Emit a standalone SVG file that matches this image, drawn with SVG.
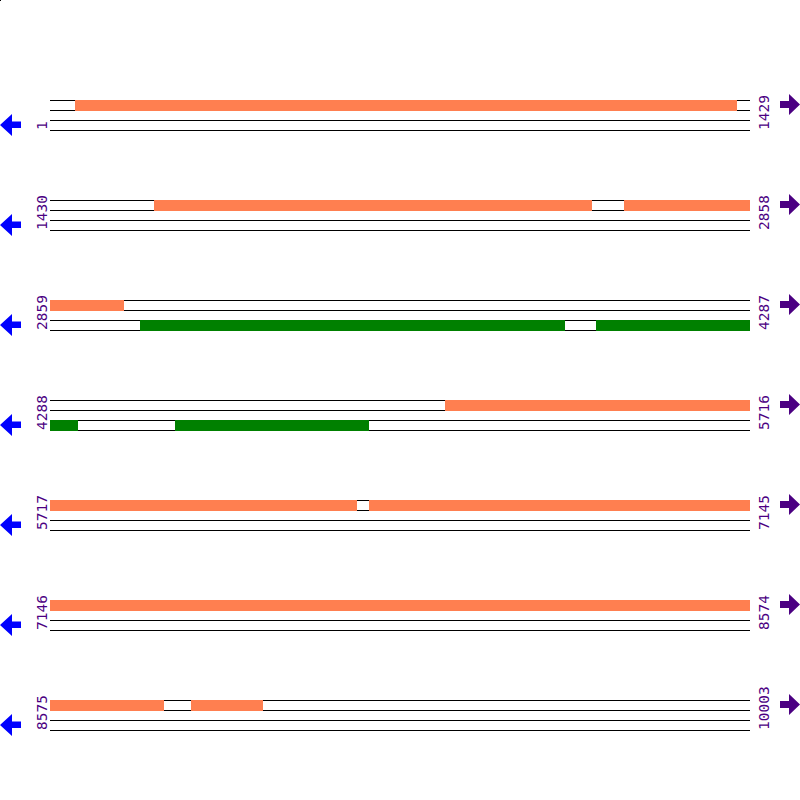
<svg xmlns="http://www.w3.org/2000/svg" width="800" height="800" viewBox="0 0 800 800">
<style>
.ln{stroke:#000;stroke-width:1;fill:none}
.or{fill:#FF7F50}
.gr{fill:#008000}
.la{fill:#0000FF}
.ra{fill:#4B0082}
.lb{font-family:"DejaVu Sans Mono",monospace;font-size:14.5px;fill:#4B0082}
</style>
<defs>
<g id="lines">
<path class="ln" d="M50 100.5H750M50 110.5H750M50 120.5H750M50 130.5H750"/>
</g>
<polygon id="larr" class="la" points="0,125 12,114 12,121.5 21,121.5 21,128 12,128 12,136"/>
<polygon id="rarr" class="ra" points="780,101 789,101 789,94 800,104.5 789,115 789,108 780,108"/>
</defs>
<rect x="0" y="0" width="1" height="1" fill="#000"/>
<g id="connectors">
<use href="#lines"/>
<use href="#lines" y="100"/>
<use href="#lines" y="200"/>
<use href="#lines" y="300"/>
<use href="#lines" y="400"/>
<use href="#lines" y="500"/>
<use href="#lines" y="600"/>
</g>
<g id="row1">
<rect class="or" x="75" y="100" width="662" height="11"/>
<use href="#larr"/><use href="#rarr"/>
<text class="lb" transform="translate(46.5,130) rotate(-90)">1</text>
<text class="lb" transform="translate(768.5,130) rotate(-90)">1429</text>
</g>
<g id="row2">
<rect class="or" x="154" y="200" width="438" height="11"/>
<rect class="or" x="624" y="200" width="126" height="11"/>
<use href="#larr" y="100"/><use href="#rarr" y="100"/>
<text class="lb" transform="translate(46.5,230) rotate(-90)">1430</text>
<text class="lb" transform="translate(768.5,230) rotate(-90)">2858</text>
</g>
<g id="row3">
<rect class="or" x="50" y="300" width="74" height="11"/>
<rect class="gr" x="140" y="320" width="425" height="11"/>
<rect class="gr" x="596" y="320" width="154" height="11"/>
<use href="#larr" y="200"/><use href="#rarr" y="200"/>
<text class="lb" transform="translate(46.5,330) rotate(-90)">2859</text>
<text class="lb" transform="translate(768.5,330) rotate(-90)">4287</text>
</g>
<g id="row4">
<rect class="or" x="445" y="400" width="305" height="11"/>
<rect class="gr" x="50" y="420" width="28" height="11"/>
<rect class="gr" x="175" y="420" width="194" height="11"/>
<use href="#larr" y="300"/><use href="#rarr" y="300"/>
<text class="lb" transform="translate(46.5,430) rotate(-90)">4288</text>
<text class="lb" transform="translate(768.5,430) rotate(-90)">5716</text>
</g>
<g id="row5">
<rect class="or" x="50" y="500" width="307" height="11"/>
<rect class="or" x="369" y="500" width="381" height="11"/>
<use href="#larr" y="400"/><use href="#rarr" y="400"/>
<text class="lb" transform="translate(46.5,530) rotate(-90)">5717</text>
<text class="lb" transform="translate(768.5,530) rotate(-90)">7145</text>
</g>
<g id="row6">
<rect class="or" x="50" y="600" width="700" height="11"/>
<use href="#larr" y="500"/><use href="#rarr" y="500"/>
<text class="lb" transform="translate(46.5,630) rotate(-90)">7146</text>
<text class="lb" transform="translate(768.5,630) rotate(-90)">8574</text>
</g>
<g id="row7">
<rect class="or" x="50" y="700" width="114" height="11"/>
<rect class="or" x="191" y="700" width="72" height="11"/>
<use href="#larr" y="600"/><use href="#rarr" y="600"/>
<text class="lb" transform="translate(46.5,730) rotate(-90)">8575</text>
<text class="lb" transform="translate(768.5,730) rotate(-90)">10003</text>
</g>
</svg>
